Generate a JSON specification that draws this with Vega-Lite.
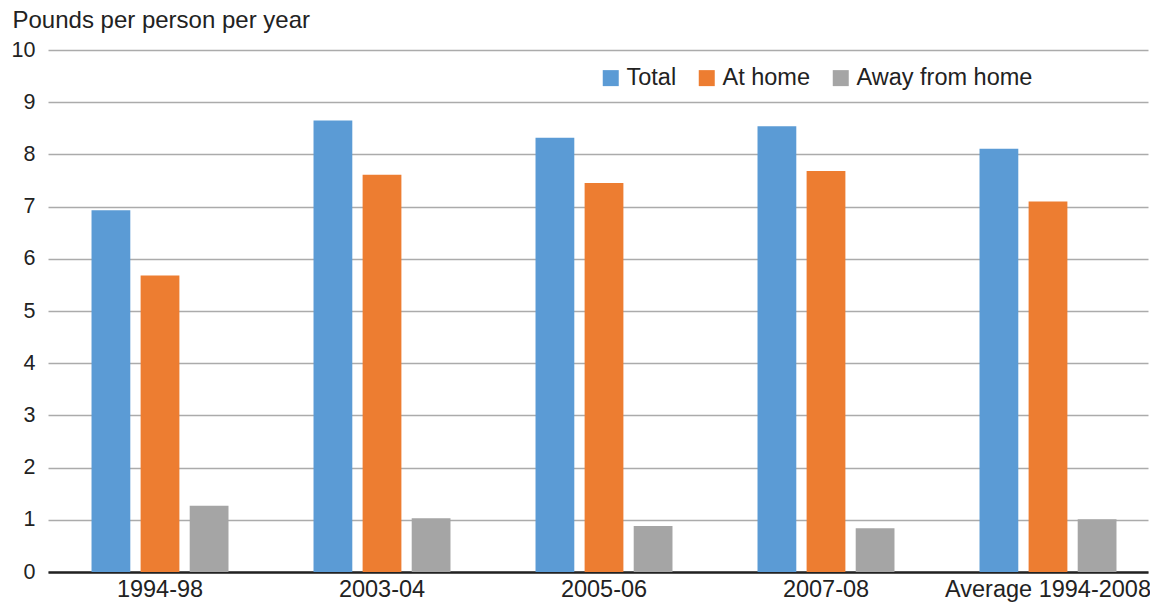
{
  "$schema": "https://vega.github.io/schema/vega-lite/v6.json",
  "width": 1100,
  "height": 522,
  "autosize": {"type": "none"},
  "padding": {"left": 48, "top": 50, "right": 2, "bottom": 31},
  "background": "white",
  "config": {
    "font": "Liberation Sans",
    "view": {"stroke": null},
    "axis": {"labelColor": "#222222", "titleColor": "#222222", "labelFont": "Liberation Sans", "titleFont": "Liberation Sans"}
  },
  "data": {
    "values": [
      {"period": "1994-98", "series": "Total", "pounds": 6.93},
      {"period": "1994-98", "series": "At home", "pounds": 5.68},
      {"period": "1994-98", "series": "Away from home", "pounds": 1.27},
      {"period": "2003-04", "series": "Total", "pounds": 8.65},
      {"period": "2003-04", "series": "At home", "pounds": 7.61},
      {"period": "2003-04", "series": "Away from home", "pounds": 1.03},
      {"period": "2005-06", "series": "Total", "pounds": 8.32},
      {"period": "2005-06", "series": "At home", "pounds": 7.45},
      {"period": "2005-06", "series": "Away from home", "pounds": 0.88},
      {"period": "2007-08", "series": "Total", "pounds": 8.54},
      {"period": "2007-08", "series": "At home", "pounds": 7.68},
      {"period": "2007-08", "series": "Away from home", "pounds": 0.84},
      {"period": "Average 1994-2008", "series": "Total", "pounds": 8.11},
      {"period": "Average 1994-2008", "series": "At home", "pounds": 7.10},
      {"period": "Average 1994-2008", "series": "Away from home", "pounds": 1.01}
    ]
  },
  "mark": {"type": "bar"},
  "encoding": {
    "x": {
      "field": "period",
      "type": "nominal",
      "sort": null,
      "scale": {"paddingInner": 0.383, "paddingOuter": 0.169, "align": 0.58},
      "axis": {
        "title": null,
        "labelAngle": 0,
        "labelFontSize": 23.5,
        "labelPadding": 5,
        "labelBaseline": "top",
        "labelLimit": 0,
        "ticks": false,
        "domainColor": "#222222",
        "domainWidth": 2.5,
        "grid": false
      }
    },
    "xOffset": {
      "field": "series",
      "type": "nominal",
      "sort": ["Total", "At home", "Away from home"],
      "scale": {"paddingInner": 0.21, "paddingOuter": 0}
    },
    "y": {
      "field": "pounds",
      "type": "quantitative",
      "scale": {"domain": [0, 10], "nice": false},
      "axis": {
        "title": "Pounds per person per year",
        "titleAngle": 0,
        "titleAlign": "left",
        "titleBaseline": "alphabetic",
        "titleX": -36,
        "titleY": -23,
        "titleFontSize": 24,
        "titleFontWeight": "normal",
        "titleLimit": 0,
        "values": [0, 1, 2, 3, 4, 5, 6, 7, 8, 9, 10],
        "labelFontSize": 21.5,
        "labelPadding": 13,
        "ticks": false,
        "domain": false,
        "gridColor": "#ababab",
        "gridWidth": 1.5
      }
    },
    "color": {
      "field": "series",
      "type": "nominal",
      "sort": ["Total", "At home", "Away from home"],
      "scale": {"domain": ["Total", "At home", "Away from home"], "range": ["#5b9bd5", "#ed7d31", "#a5a5a5"]},
      "legend": {
        "title": null,
        "orient": "none",
        "direction": "horizontal",
        "legendX": 551,
        "legendY": 16,
        "padding": 0,
        "symbolType": "square",
        "symbolSize": 256,
        "symbolStrokeWidth": 0,
        "symbolOpacity": 1,
        "labelFontSize": 23.5,
        "labelLimit": 0,
        "labelColor": "#222222",
        "labelOffset": 4,
        "columnPadding": 18
      }
    }
  }
}
